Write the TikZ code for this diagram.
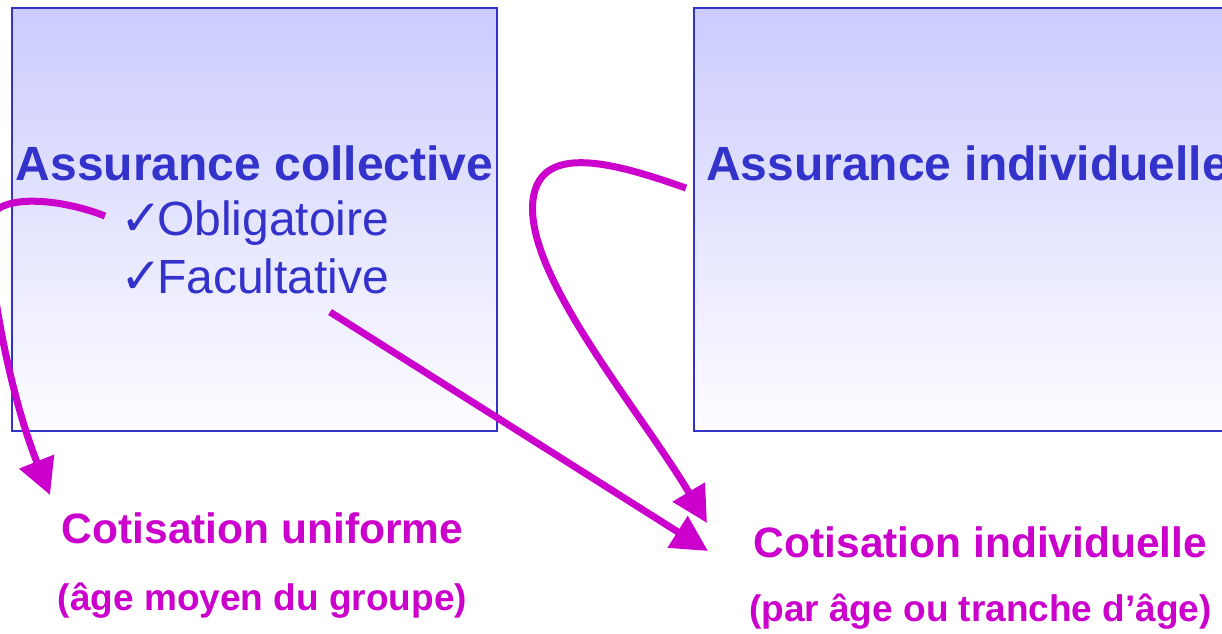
\documentclass[tikz,border=0pt]{standalone}
\usepackage{fontspec}
\setmainfont{Liberation Sans}
\newfontfamily\checkfont{DejaVu Sans}
\usetikzlibrary{arrows.meta}
\definecolor{txtblue}{HTML}{3333CC}
\definecolor{mag}{HTML}{CC00CC}
\definecolor{boxtop}{HTML}{CCCCFF}
\definecolor{boxbot}{HTML}{FDFDFF}
\newcommand{\chk}{\makebox[37pt][l]{\checkfont\fontsize{50}{56}\selectfont ✓}}
\tikzset{
  box/.style={draw=txtblue, line width=2pt, top color=boxtop, bottom color=boxbot, inner sep=0pt},
  title/.style={text=txtblue, font=\fontsize{48}{56}\selectfont\bfseries, inner sep=0pt},
  item/.style={text=txtblue, font=\fontsize{48}{56}\selectfont, inner sep=0pt, anchor=base west},
  cot/.style={text=mag, font=\fontsize{42.5}{50}\selectfont\bfseries, inner sep=0pt, anchor=base},
  sub/.style={text=mag, font=\fontsize{37}{44}\selectfont\bfseries, inner sep=0pt, anchor=base},
  conn/.style={draw=mag, line width=7pt, -{Triangle[length=36pt,width=36pt]}}
}
\begin{document}
\begin{tikzpicture}[x=1pt,y=-1pt]
\useasboundingbox (0,0) rectangle (1222,633);
\clip (0,0) rectangle (1222,633);
\node[box, minimum width=485pt, minimum height=423pt] (lbox) at (254.5,219.5) {};
\node[box, minimum width=546pt, minimum height=423pt] (rbox) at (967,219.5) {};
\node[title, anchor=base] (tcol) at (254.5,180) {Assurance collective};
\node[title, anchor=base west] (tind) at (706,180) {Assurance individuelle};
\node[item] (obl) at (120,235) {\chk Obligatoire};
\node[item] (fac) at (120,293) {\chk Facultative};
\node[cot] (cu) at (262.5,543) {Cotisation uniforme};
\node[sub] (cus) at (262.5,610) {(âge moyen du groupe)};
\node[cot] (ci) at (980.5,557) {Cotisation individuelle};
\node[sub] (cis) at (980.5,621) {(par âge ou tranche d’âge)};
\coordinate (s1) at (105,216);
\coordinate (e1) at (50,495);
\coordinate (s2) at (330,312);
\coordinate (e2) at (708,551);
\coordinate (s3) at (686,188);
\coordinate (e3) at (707,523);
\draw[conn] (s1) .. controls (60,198) and (-15,190) .. (-12,230) .. controls (-5,330) and (20,420) .. (e1);
\draw[conn] (s2) -- (e2);
\draw[conn] (s3) .. controls (620,165) and (540,140) .. (533,200) .. controls (524,275) and (640,410) .. (e3);
\end{tikzpicture}
\end{document}
